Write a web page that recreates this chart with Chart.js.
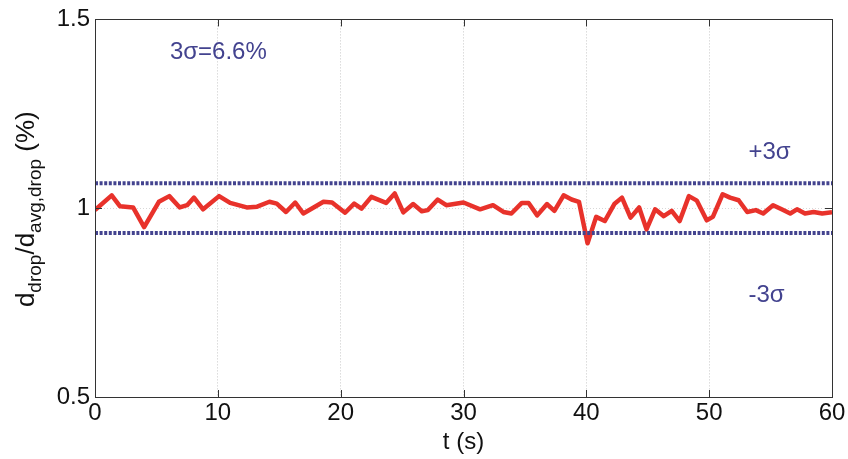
<!DOCTYPE html>
<html>
<head>
<meta charset="utf-8">
<script src="https://cdn.jsdelivr.net/npm/chart.js@4/dist/chart.umd.min.js"></script>
<style>
html,body{margin:0;padding:0;background:#fff;}
#wrap{width:848px;height:459px;position:relative;}
</style>
</head>
<body>
<div id="wrap"><canvas id="c" width="848" height="459"></canvas></div>
<script>
// ---- data ----
const tValues = [0,1.36,2.04,3.1,4.0,5.2,6.05,6.9,7.5,8.06,8.8,10.1,11.0,12.35,13.2,14.2,14.8,15.55,16.3,16.96,17.8,18.6,19.3,20.36,21.1,21.7,22.5,23.7,24.4,25.1,25.9,26.6,27.1,27.9,28.6,30.0,31.35,32.4,33.25,33.9,34.75,35.3,36.0,36.8,37.4,38.15,38.8,39.4,40.1,40.8,41.5,42.3,42.9,43.6,44.3,44.9,45.6,46.3,46.95,47.6,48.35,49.0,49.8,50.3,51.1,51.7,52.4,53.1,53.8,54.4,55.2,55.9,56.6,57.15,57.8,58.5,59.2,60];
const ratioValues = [0.995,1.034,1.005,1.002,0.95,1.017,1.032,1.002,1.008,1.028,0.997,1.032,1.014,1.002,1.004,1.017,1.012,0.99,1.015,0.986,1.002,1.017,1.015,0.988,1.012,0.999,1.03,1.014,1.039,0.989,1.011,0.992,0.995,1.023,1.008,1.015,0.997,1.008,0.99,0.986,1.014,1.014,0.981,1.011,0.993,1.034,1.023,1.017,0.907,0.977,0.966,1.012,1.028,0.975,1.002,0.944,0.997,0.979,0.993,0.966,1.032,1.02,0.968,0.977,1.037,1.028,1.021,0.99,0.995,0.986,1.008,0.997,0.986,0.997,0.986,0.99,0.986,0.989];
const limitT = [0, 60];
const upperLimit = [1.066, 1.066];
const lowerLimit = [0.934, 0.934];
const xTicks = [0,10,20,30,40,50,60];
const yTicks = [0.5,1,1.5];
const sigmaText = '3\u03c3=6.6%';
const plusText = '+3\u03c3';
const minusText = '-3\u03c3';

const FONT = "'Liberation Sans', Arial, sans-serif";
const BLUE = '#43438f';

const pts = (xs, ys) => xs.map((x, i) => ({x: x, y: ys[i]}));

const framePlugin = {
  id: 'frame',
  afterDraw(chart) {
    const {ctx, chartArea: a, scales: {x, y}} = chart;
    ctx.save();
    // frame
    ctx.strokeStyle = '#333';
    ctx.lineWidth = 1;
    ctx.strokeRect(Math.round(a.left) + 0.5, Math.round(a.top) + 0.5, Math.round(a.right - a.left), Math.round(a.bottom - a.top));
    // inward ticks
    ctx.beginPath();
    xTicks.forEach(v => {
      const px = Math.round(x.getPixelForValue(v)) + 0.5;
      ctx.moveTo(px, a.bottom); ctx.lineTo(px, a.bottom - 7);
      ctx.moveTo(px, a.top); ctx.lineTo(px, a.top + 7);
    });
    yTicks.forEach(v => {
      const py = Math.round(y.getPixelForValue(v)) + 0.5;
      ctx.moveTo(a.left, py); ctx.lineTo(a.left + 7, py);
      ctx.moveTo(a.right, py); ctx.lineTo(a.right - 7, py);
    });
    ctx.stroke();
    // annotations
    ctx.fillStyle = BLUE;
    ctx.font = '24px ' + FONT;
    ctx.textBaseline = 'middle';
    ctx.textAlign = 'left';
    ctx.fillText(sigmaText, x.getPixelForValue(6.1), y.getPixelForValue(1.413));
    ctx.fillText(plusText, x.getPixelForValue(53.2), y.getPixelForValue(1.148));
    ctx.fillText(minusText, x.getPixelForValue(53.2), y.getPixelForValue(0.77));
    // y axis title with subscripts
    const cy = (a.top + a.bottom) / 2 + 1;
    const baseX = 34;
    const parts = [
      {t: 'd', s: 26, dy: 0},
      {t: 'drop', s: 19, dy: 7},
      {t: '/d', s: 26, dy: 0},
      {t: 'avg,drop', s: 19, dy: 7},
      {t: ' (%)', s: 26, dy: 0}
    ];
    let total = 0;
    parts.forEach(p => { ctx.font = p.s + 'px ' + FONT; p.w = ctx.measureText(p.t).width; total += p.w; });
    ctx.translate(baseX, cy);
    ctx.rotate(-Math.PI / 2);
    ctx.fillStyle = '#111';
    ctx.textBaseline = 'alphabetic';
    let cx = -total / 2;
    parts.forEach(p => {
      ctx.font = p.s + 'px ' + FONT;
      ctx.fillText(p.t, cx, p.dy);
      cx += p.w;
    });
    ctx.restore();
  }
};

new Chart(document.getElementById('c'), {
  type: 'scatter',
  data: {
    datasets: [
      {data: pts(limitT, upperLimit), showLine: true, borderColor: BLUE, borderWidth: 4, borderDash: [3, 1.6], pointRadius: 0, fill: false},
      {data: pts(limitT, lowerLimit), showLine: true, borderColor: BLUE, borderWidth: 4, borderDash: [3, 1.6], pointRadius: 0, fill: false},
      {data: pts(tValues, ratioValues), showLine: true, borderColor: '#e8322b', borderWidth: 4.5, pointRadius: 0, tension: 0, fill: false, borderJoinStyle: 'round'}
    ]
  },
  options: {
    responsive: false,
    animation: false,
    devicePixelRatio: 1,
    layout: {padding: {top: 19, right: 16, left: 0, bottom: 0}},
    plugins: {legend: {display: false}, tooltip: {enabled: false}},
    scales: {
      x: {
        type: 'linear', min: 0, max: 60,
        afterBuildTicks: s => { s.ticks = xTicks.map(v => ({value: v})); },
        afterFit: s => { s.height = 62; },
        grid: {
          drawTicks: false,
          color: c => (c.tick && c.tick.value > 0 && c.tick.value < 60) ? '#c8c8c8' : 'rgba(0,0,0,0)',
          lineWidth: 1
        },
        border: {display: false, dash: [1, 2]},
        ticks: {font: {family: FONT, size: 24}, color: '#111', padding: 2, maxRotation: 0},
        title: {display: true, text: 't (s)', font: {family: FONT, size: 24}, color: '#111', padding: {top: 0, bottom: 2}}
      },
      y: {
        type: 'linear', min: 0.5, max: 1.5,
        afterBuildTicks: s => { s.ticks = yTicks.map(v => ({value: v})); },
        afterFit: s => { s.width = 95; },
        grid: {
          drawTicks: false,
          color: c => (c.tick && c.tick.value === 1) ? '#d8d8d8' : 'rgba(0,0,0,0)',
          lineWidth: 1
        },
        border: {display: false, dash: [1, 2]},
        ticks: {font: {family: FONT, size: 24}, color: '#111', padding: 5,
          callback: v => String(v)}
      }
    }
  },
  plugins: [framePlugin]
});
</script>
</body>
</html>
